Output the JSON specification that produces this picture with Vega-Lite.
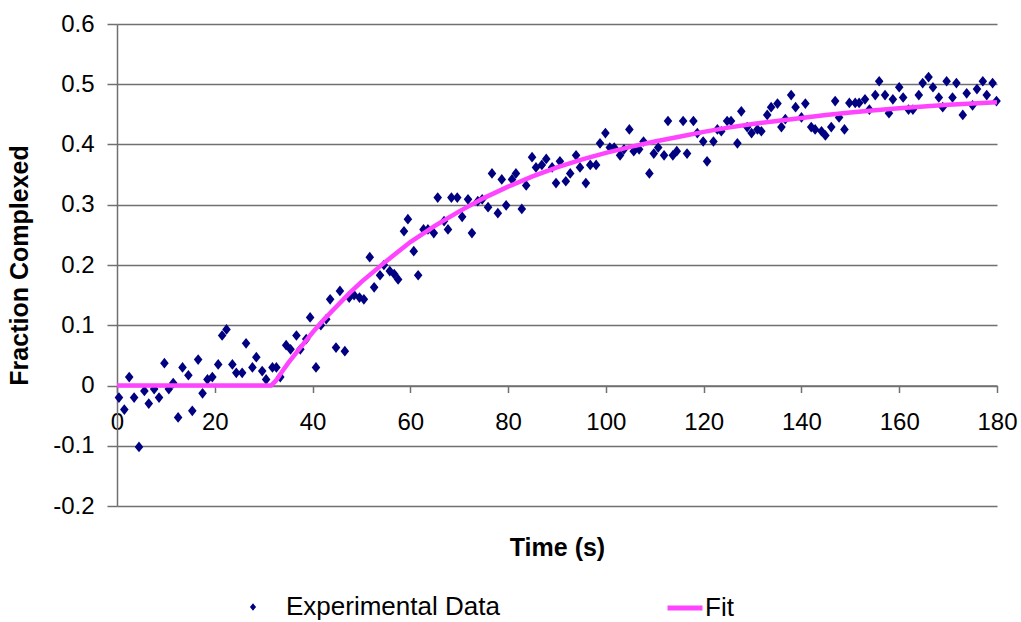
{
  "$schema": "https://vega.github.io/schema/vega-lite/v6.json",
  "width": 880,
  "height": 482,
  "autosize": {"type": "none"},
  "padding": {"left": 117, "top": 24, "right": 24, "bottom": 116},
  "background": "white",
  "config": {"view": {"stroke": null}, "font": "Liberation Sans"},
  "datasets": {
    "exp": [
      {"t":0.4,"v":-0.020},{"t":1.5,"v":-0.040},{"t":2.5,"v":0.014},{"t":3.5,"v":-0.020},{"t":4.5,"v":-0.102},
      {"t":5.6,"v":-0.009},{"t":6.5,"v":-0.030},{"t":7.6,"v":-0.006},{"t":8.6,"v":-0.020},{"t":9.7,"v":0.037},
      {"t":10.6,"v":-0.006},{"t":11.5,"v":0.004},{"t":12.5,"v":-0.053},{"t":13.4,"v":0.030},{"t":14.6,"v":0.017},
      {"t":15.4,"v":-0.042},{"t":16.6,"v":0.043},{"t":17.5,"v":-0.013},{"t":18.5,"v":0.010},{"t":19.5,"v":0.014},
      {"t":20.7,"v":0.035},{"t":21.5,"v":0.083},{"t":22.4,"v":0.093},{"t":23.6,"v":0.035},{"t":24.4,"v":0.021},
      {"t":25.6,"v":0.021},{"t":26.4,"v":0.070},{"t":27.7,"v":0.030},{"t":28.5,"v":0.047},{"t":29.7,"v":0.024},
      {"t":30.5,"v":0.010},{"t":31.8,"v":0.030},{"t":32.6,"v":0.030},{"t":33.4,"v":0.014},{"t":34.6,"v":0.067},
      {"t":35.5,"v":0.060},{"t":36.7,"v":0.083},{"t":37.5,"v":0.060},{"t":38.7,"v":0.077},{"t":39.5,"v":0.113},
      {"t":40.7,"v":0.030},{"t":41.7,"v":0.100},{"t":42.8,"v":0.110},{"t":43.6,"v":0.143},{"t":44.8,"v":0.063},
      {"t":45.6,"v":0.157},{"t":46.6,"v":0.057},{"t":47.5,"v":0.146},{"t":48.5,"v":0.150},{"t":49.6,"v":0.146},
      {"t":50.5,"v":0.143},{"t":51.7,"v":0.213},{"t":52.6,"v":0.163},{"t":53.8,"v":0.183},{"t":54.6,"v":0.200},
      {"t":55.8,"v":0.190},{"t":56.7,"v":0.185},{"t":57.5,"v":0.176},{"t":58.7,"v":0.256},{"t":59.5,"v":0.276},
      {"t":60.7,"v":0.223},{"t":61.6,"v":0.183},{"t":62.7,"v":0.259},{"t":63.6,"v":0.259},{"t":64.8,"v":0.253},
      {"t":65.6,"v":0.312},{"t":66.9,"v":0.273},{"t":67.7,"v":0.259},{"t":68.4,"v":0.312},{"t":69.6,"v":0.312},
      {"t":70.6,"v":0.280},{"t":71.8,"v":0.309},{"t":72.6,"v":0.253},{"t":73.8,"v":0.306},{"t":74.7,"v":0.309},
      {"t":75.9,"v":0.296},{"t":76.7,"v":0.352},{"t":77.9,"v":0.286},{"t":78.7,"v":0.342},{"t":79.6,"v":0.299},
      {"t":80.8,"v":0.342},{"t":81.6,"v":0.352},{"t":82.8,"v":0.293},{"t":83.7,"v":0.332},{"t":84.9,"v":0.379},
      {"t":85.7,"v":0.362},{"t":86.9,"v":0.366},{"t":87.8,"v":0.376},{"t":89.0,"v":0.362},{"t":89.8,"v":0.336},
      {"t":90.6,"v":0.372},{"t":91.8,"v":0.339},{"t":92.7,"v":0.352},{"t":93.9,"v":0.382},{"t":94.7,"v":0.362},
      {"t":95.9,"v":0.336},{"t":96.8,"v":0.366},{"t":98.0,"v":0.366},{"t":98.8,"v":0.402},{"t":99.9,"v":0.419},
      {"t":100.8,"v":0.395},{"t":101.7,"v":0.395},{"t":102.9,"v":0.382},{"t":103.7,"v":0.392},{"t":104.8,"v":0.425},
      {"t":105.7,"v":0.389},{"t":106.8,"v":0.392},{"t":107.7,"v":0.405},{"t":108.9,"v":0.352},{"t":109.8,"v":0.385},
      {"t":110.7,"v":0.395},{"t":111.9,"v":0.382},{"t":112.7,"v":0.439},{"t":113.7,"v":0.382},{"t":114.5,"v":0.389},
      {"t":115.8,"v":0.439},{"t":116.6,"v":0.385},{"t":117.9,"v":0.439},{"t":118.7,"v":0.419},{"t":119.9,"v":0.405},
      {"t":120.7,"v":0.372},{"t":122.0,"v":0.405},{"t":122.8,"v":0.425},{"t":123.6,"v":0.422},{"t":124.8,"v":0.439},
      {"t":125.6,"v":0.439},{"t":126.9,"v":0.402},{"t":127.7,"v":0.455},{"t":128.9,"v":0.429},{"t":129.8,"v":0.419},
      {"t":131.0,"v":0.425},{"t":131.8,"v":0.422},{"t":133.0,"v":0.449},{"t":133.8,"v":0.462},{"t":135.1,"v":0.468},
      {"t":135.9,"v":0.429},{"t":136.7,"v":0.442},{"t":137.9,"v":0.482},{"t":138.8,"v":0.462},{"t":140.0,"v":0.445},
      {"t":140.8,"v":0.468},{"t":142.0,"v":0.429},{"t":142.8,"v":0.425},{"t":144.1,"v":0.422},{"t":144.9,"v":0.415},
      {"t":146.1,"v":0.429},{"t":146.9,"v":0.472},{"t":147.7,"v":0.445},{"t":148.8,"v":0.425},{"t":149.8,"v":0.469},
      {"t":151.0,"v":0.469},{"t":151.8,"v":0.469},{"t":153.0,"v":0.475},{"t":153.9,"v":0.458},{"t":155.1,"v":0.482},
      {"t":155.9,"v":0.505},{"t":157.1,"v":0.482},{"t":157.9,"v":0.452},{"t":158.7,"v":0.475},{"t":160.0,"v":0.495},
      {"t":160.8,"v":0.478},{"t":161.9,"v":0.458},{"t":162.8,"v":0.458},{"t":164.0,"v":0.482},{"t":164.8,"v":0.502},
      {"t":166.0,"v":0.512},{"t":166.9,"v":0.495},{"t":168.1,"v":0.478},{"t":168.9,"v":0.462},{"t":169.7,"v":0.505},
      {"t":170.9,"v":0.478},{"t":171.7,"v":0.502},{"t":173.0,"v":0.449},{"t":173.8,"v":0.485},{"t":175.0,"v":0.465},
      {"t":175.9,"v":0.492},{"t":177.1,"v":0.505},{"t":177.9,"v":0.482},{"t":179.1,"v":0.502},{"t":179.9,"v":0.472}
    ],
    "fit": [
      {"t":0,"v":0},{"t":31.5,"v":0},{"t":32.5,"v":0.008},{"t":33.5,"v":0.020},{"t":35,"v":0.037},
      {"t":37.5,"v":0.063},{"t":40,"v":0.088},{"t":42.5,"v":0.111},{"t":45,"v":0.132},{"t":47.5,"v":0.153},
      {"t":50,"v":0.172},{"t":55,"v":0.206},{"t":60,"v":0.238},{"t":65,"v":0.265},{"t":70,"v":0.289},
      {"t":75,"v":0.311},{"t":80,"v":0.330},{"t":85,"v":0.347},{"t":90,"v":0.362},{"t":95,"v":0.375},
      {"t":100,"v":0.386},{"t":105,"v":0.396},{"t":110,"v":0.405},{"t":115,"v":0.413},{"t":120,"v":0.421},
      {"t":125,"v":0.428},{"t":130,"v":0.434},{"t":135,"v":0.439},{"t":140,"v":0.444},{"t":145,"v":0.449},
      {"t":150,"v":0.453},{"t":155,"v":0.457},{"t":160,"v":0.460},{"t":165,"v":0.463},{"t":170,"v":0.466},
      {"t":175,"v":0.468},{"t":180,"v":0.470}
    ]
  },
  "layer": [
    {
      "data": {"name": "exp"},
      "mark": {"type": "point", "filled": true, "shape": "M0,-1L0.8,0L0,1L-0.8,0Z", "size": 115, "opacity": 1, "strokeWidth": 0},
      "encoding": {
        "x": {
          "field": "t", "type": "quantitative",
          "scale": {"domain": [0, 180], "nice": false, "zero": false},
          "axis": {
            "orient": "bottom", "offset": -120.5, "values": [0,20,40,60,80,100,120,140,160,180],
            "title": null, "grid": false, "labelFlush": false, "labelOverlap": false,
            "domainColor": "#707070", "domainWidth": 1.5, "tickColor": "#707070", "tickWidth": 1.5, "tickSize": 7,
            "labelFontSize": 24, "labelColor": "black", "labelPadding": 18
          }
        },
        "y": {
          "field": "v", "type": "quantitative",
          "scale": {"domain": [-0.2, 0.6], "nice": false, "zero": false},
          "axis": {
            "values": [-0.2,-0.1,0,0.1,0.2,0.3,0.4,0.5,0.6], "labelExpr": "'' + datum.value",
            "labelFlush": false, "labelOverlap": false,
            "grid": true, "gridColor": "#707070", "gridWidth": 1.5,
            "domainColor": "#707070", "domainWidth": 1.5, "tickColor": "#707070", "tickWidth": 1.5, "tickSize": 10,
            "labelFontSize": 24, "labelPadding": 13, "labelColor": "black",
            "title": "Fraction Complexed", "titleFontSize": 25, "titleFontWeight": "bold", "titleColor": "black", "titlePadding": 20
          }
        },
        "fill": {
          "datum": "Experimental Data",
          "scale": {"range": ["#000080"]},
          "legend": {
            "orient": "none", "legendX": 123, "legendY": 570, "title": null, "padding": 0,
            "symbolType": "M0,-1L0.8,0L0,1L-0.8,0Z", "symbolSize": 60, "symbolStrokeWidth": 0,
            "labelFontSize": 26, "labelColor": "black", "labelOffset": 20, "labelLimit": 0
          }
        }
      }
    },
    {
      "data": {"name": "fit"},
      "mark": {"type": "line", "strokeWidth": 4.5, "interpolate": "linear"},
      "encoding": {
        "x": {
          "field": "t", "type": "quantitative",
          "axis": {
            "orient": "bottom", "title": "Time (s)", "labels": false, "ticks": false, "domain": false, "grid": false,
            "titleFontSize": 25, "titleFontWeight": "bold", "titleColor": "black", "titlePadding": 29
          }
        },
        "y": {"field": "v", "type": "quantitative"},
        "stroke": {
          "datum": "Fit",
          "scale": {"range": ["#FF44FF"]},
          "legend": {
            "orient": "none", "legendX": 548, "legendY": 564, "title": null, "padding": 0,
            "symbolType": "stroke", "symbolSize": 1225, "symbolStrokeWidth": 5,
            "labelFontSize": 26, "labelColor": "black", "labelOffset": 0, "labelLimit": 0
          }
        }
      }
    }
  ],
  "resolve": {"axis": {"x": "independent"}}
}
